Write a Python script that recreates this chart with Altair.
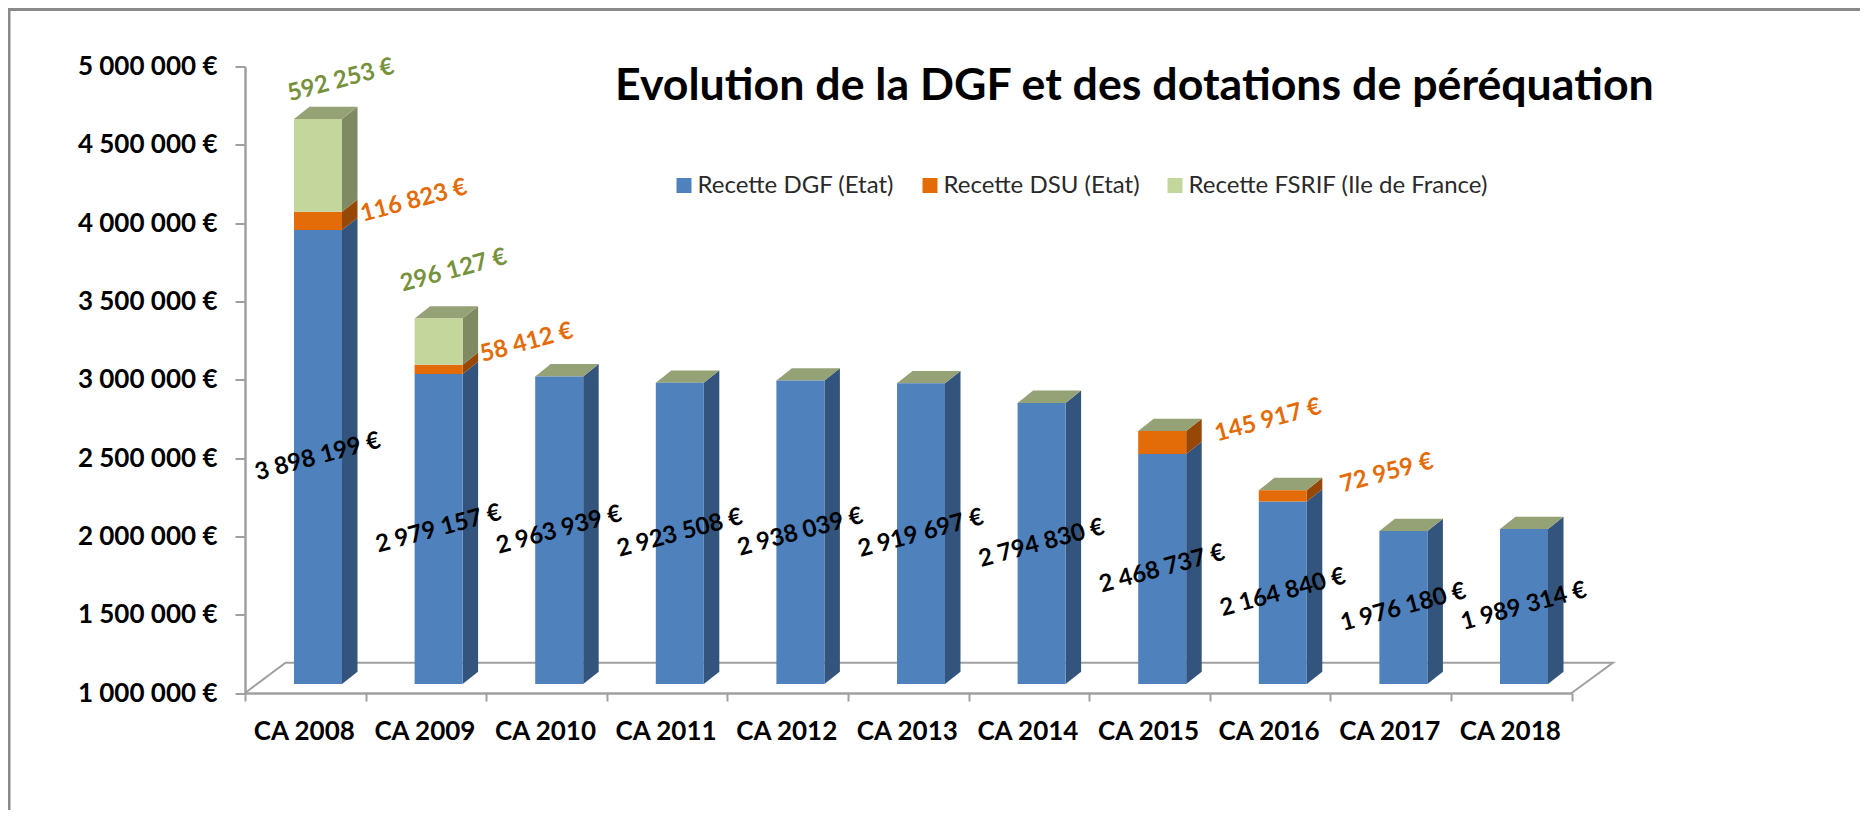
import altair as alt
import pandas as pd

# ---- data ----
years = [2008, 2009, 2010, 2011, 2012, 2013, 2014, 2015, 2016, 2017, 2018]
categories = [f"CA {y}" for y in years]
dgf = [3898199, 2979157, 2963939, 2923508, 2938039, 2919697, 2794830, 2468737, 2164840, 1976180, 1989314]
dsu = [116823, 58412, 0, 0, 0, 0, 0, 145917, 72959, 0, 0]
fsrif = [592253, 296127, 0, 0, 0, 0, 0, 0, 0, 0, 0]
series_names = ["Recette DGF (Etat)", "Recette DSU (Etat)", "Recette FSRIF (Ile de France)"]
y_ticks = [1000000, 1500000, 2000000, 2500000, 3000000, 3500000, 4000000, 4500000, 5000000]
title_text = "Evolution de la DGF et des dotations de péréquation"

# ---- style ----
FONT = "Lato"
front = ["#4f81bd", "#e36c09", "#c3d69b"]
side = ["#33547c", "#974806", "#7f8a62"]
top_col = "#95a276"
label_col = ["#000000", "#e36c09", "#76923c"]
grey = "#a0a0a0"

W, H = 1326.6, 626.5
Y0, Y1 = 1000000, 5000000
PX_X = W / 11                 # px per category
PX_Y = H / (Y1 - Y0)          # px per euro
BAR_L, BAR_W = 49 / PX_X, 48 / PX_X     # front face inside the category
DX, DV = 15.5 / PX_X, 12.3 / PX_Y       # bar depth
FLOOR_DX, FLOOR_DV = 40.5 / PX_X, 30.3 / PX_Y
LIFT = -9                     # bars stand 9px above the axis plane

# manual shifts of the data labels (px right, px down), from segment centre
shifts = {
    (1, 2008): (96, -20), (1, 2009): (88, -26.5), (1, 2015): (106, -22), (1, 2016): (104, -22.5),
    (2, 2008): (23, -85), (2, 2009): (15, -71),
}

faces, sides, tops, labels = [], [], [], []
for i, yr in enumerate(years):
    xl = i + BAR_L
    xr = xl + BAR_W
    base = Y0
    for s, vals in enumerate((dgf, dsu, fsrif)):
        v = vals[i]
        if not v:
            continue
        # the first series rises from the axis floor
        lo = base
        hi = (base + v) if s else v
        faces.append(dict(series=series_names[s], xl=xl, xr=xr, lo=lo, hi=hi))
        key = f"{yr}-{s}"
        for x, a, b in ((xr, lo, hi), (xr + DX, lo + DV, hi + DV)):
            sides.append(dict(key=key, x=x, a=a, b=b, fill=side[s]))
        sx, sy = shifts.get((s, yr), (0, 0))
        labels.append(dict(x=(xl + xr) / 2 + sx / PX_X,
                           y=(lo + hi) / 2 - sy / PX_Y,
                           txt=f"{v:,}".replace(",", " ") + " €",
                           col=label_col[s]))
        base = hi
    t = base
    for x, a, b in ((xl, t, t), (xl + DX, t + DV, t), (xr, t + DV, t), (xr + DX, t + DV, t + DV)):
        tops.append(dict(key=str(yr), x=x, a=a, b=b))

faces = pd.DataFrame(faces)
sides = pd.DataFrame(sides)
tops = pd.DataFrame(tops)
labels = pd.DataFrame(labels)
cats = pd.DataFrame(dict(cat=categories, x=[i + 0.5 for i in range(len(categories))]))
floor_back = pd.DataFrame(dict(
    x=[0, FLOOR_DX, 11 + FLOOR_DX * 1.02, 11],
    y=[Y0, Y0 + FLOOR_DV, Y0 + FLOOR_DV, Y0], o=[0, 1, 2, 3]))

xs = alt.Scale(domain=[0, 11], nice=False, zero=False)
ys = alt.Scale(domain=[Y0, Y1], nice=False, zero=False)

axes = alt.Chart(floor_back).mark_line(color=grey, strokeWidth=2, clip=False).encode(
    x=alt.X("x:Q", scale=xs, title=None,
            axis=alt.Axis(values=list(range(12)), labels=False, grid=False, tickSize=8,
                          domainColor=grey, tickColor=grey, domainWidth=2.5, tickWidth=2)),
    y=alt.Y("y:Q", scale=ys, title=None,
            axis=alt.Axis(values=y_ticks, grid=False, tickSize=10, domainColor=grey, tickColor=grey,
                          domainWidth=2.5, tickWidth=2, labelFont=FONT, labelFontSize=26,
                          labelFontWeight="bold", labelColor="#000000", labelPadding=18,
                          labelExpr="replace(format(datum.value, ','), regexp(',', 'g'), ' ') + ' €'")),
    order="o:Q",
)

side_layer = alt.Chart(sides).mark_area(yOffset=LIFT, y2Offset=LIFT, clip=False).encode(
    x=alt.X("x:Q", scale=xs),
    y=alt.Y("a:Q", scale=ys, stack=None),
    y2="b:Q",
    detail="key:N",
    color=alt.Color("fill:N", scale=None),
)

top_layer = alt.Chart(tops).mark_area(color=top_col, yOffset=LIFT, y2Offset=LIFT, clip=False).encode(
    x=alt.X("x:Q", scale=xs),
    y=alt.Y("a:Q", scale=ys, stack=None),
    y2="b:Q",
    detail="key:N",
)

front_layer = alt.Chart(faces).mark_rect(yOffset=LIFT, y2Offset=LIFT).encode(
    x=alt.X("xl:Q", scale=xs),
    x2="xr:Q",
    y=alt.Y("lo:Q", scale=ys),
    y2="hi:Q",
    color=alt.Color("series:N",
                    scale=alt.Scale(domain=series_names, range=front),
                    legend=alt.Legend(orient="none", legendX=427, legendY=107, direction="horizontal",
                                      title=None, symbolType="square", symbolSize=225,
                                      symbolStrokeWidth=0, labelFont=FONT, labelFontSize=24,
                                      labelLimit=500, labelColor="#2a2a2a", columnPadding=23, labelOffset=1.5)),
)

text_layer = alt.Chart(labels).mark_text(font=FONT, fontSize=24, fontWeight="bold", angle=345,
                                         yOffset=LIFT).encode(
    x=alt.X("x:Q", scale=xs),
    y=alt.Y("y:Q", scale=ys),
    text="txt:N",
    color=alt.Color("col:N", scale=None),
)

cat_layer = alt.Chart(cats).mark_text(font=FONT, fontSize=26, fontWeight="bold", color="#000000",
                                      baseline="middle", dx=-1).encode(
    x=alt.X("x:Q", scale=xs),
    y=alt.value(H + 39),
    text="cat:N",
)

one = pd.DataFrame(dict(a=[0]))
frame_left = alt.Chart(one).mark_rule(color="#8a8a8a", strokeWidth=3).encode(
    x=alt.value(-236), y=alt.value(-58.5), y2=alt.value(H + 117))
frame_top = alt.Chart(one).mark_rule(color="#8a8a8a", strokeWidth=3).encode(
    x=alt.value(-237), x2=alt.value(W + 289), y=alt.value(-57))

chart = alt.layer(frame_left, frame_top, axes, side_layer, top_layer, front_layer, text_layer, cat_layer).resolve_scale(
    color="independent"
).properties(
    width=W, height=H,
    title=alt.TitleParams(title_text, anchor="start", frame="group", dx=370, dy=103, offset=0,
                          font=FONT, fontSize=44.7, fontWeight="bold", color="#000000"),
    autosize=alt.AutoSizeParams(type="none"),
    padding=dict(left=237, top=58.5, right=288.4, bottom=117),
).configure_view(stroke=None)

chart.save("out.html", embed_options={"renderer": "svg", "actions": False})
